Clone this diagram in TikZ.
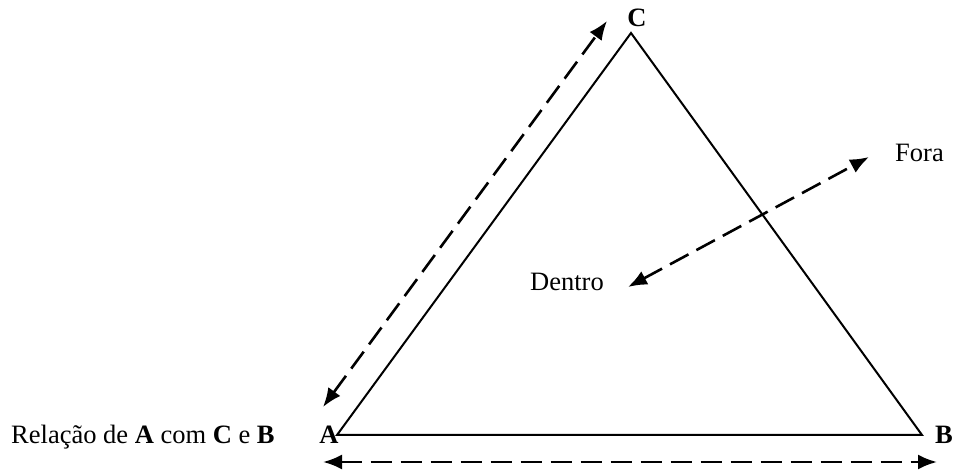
\documentclass[tikz,border=0pt]{standalone}
\usepackage{fontspec}
\setmainfont{Liberation Serif}
\usetikzlibrary{arrows.meta}
\tikzset{
  side/.style={line width=2pt},
  rel/.style={line width=2.6pt, dash pattern=on 21pt off 9pt, {Latex[length=19pt,width=15pt]}-{Latex[length=19pt,width=15pt]}},
  lbl/.style={font=\fontsize{26.5}{30}\selectfont, inner sep=0pt},
  vlbl/.style={font=\fontsize{26.5}{30}\selectfont\bfseries, inner sep=0pt}
}
\begin{document}
\begin{tikzpicture}[x=1pt,y=-1pt]
\useasboundingbox (0,0) rectangle (954,470);
\coordinate (A) at (337,435);
\coordinate (B) at (922,435);
\coordinate (C) at (631,33);
\draw[side, line join=miter] (A) -- (C) -- (B) -- cycle;
\node[vlbl, anchor=base] (lC) at (637,27) {C};
\node[vlbl, anchor=base] (lA) at (329,443) {A};
\node[vlbl, anchor=base] (lB) at (944,443) {B};
\node[lbl, anchor=base west] (relacao) at (11,443) {Relação de \textbf{A} com \textbf{C} e \textbf{B}};
\node[lbl, anchor=base west] (dentro) at (530,291) {Dentro};
\node[lbl, anchor=base west] (fora) at (895,162) {Fora};
\coordinate (acTop) at (607,21);
\coordinate (acBot) at (323,407);
\draw[rel] (acBot) -- (acTop);
\coordinate (inTip) at (628,287);
\coordinate (outTip) at (869,157);
\draw[rel] (inTip) -- (outTip);
\coordinate (abL) at (323,462);
\coordinate (abR) at (937,462);
\draw[rel] (abL) -- (abR);
\end{tikzpicture}
\end{document}
